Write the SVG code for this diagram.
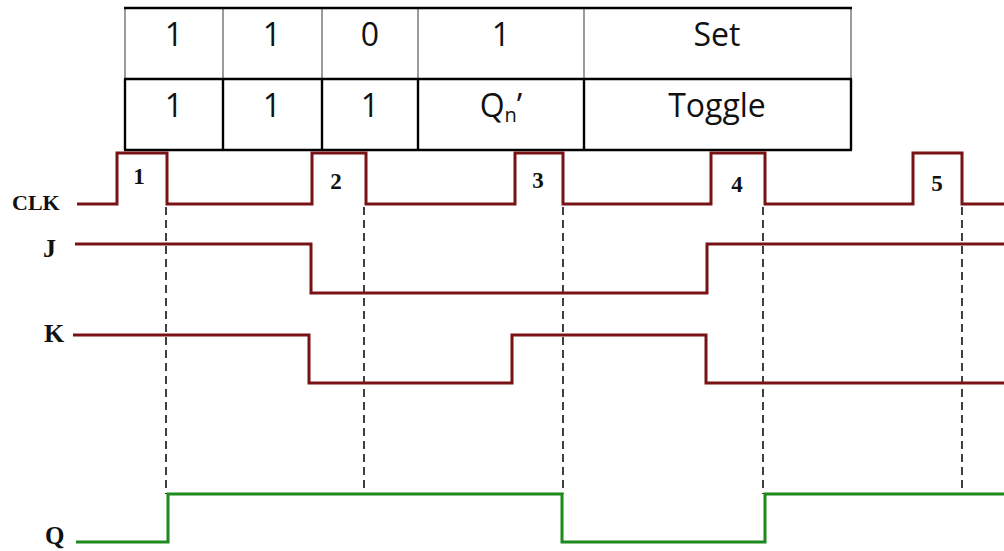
<svg xmlns="http://www.w3.org/2000/svg" width="1004" height="551" viewBox="0 0 1004 551">
  <style>
    .cell { font-family: "Open Sans", "Liberation Sans", sans-serif; font-size: 32px; fill: #111; text-anchor: middle; }
    .thin { stroke: #666; stroke-width: 1.3; fill: none; }
    .bold { stroke: #000; stroke-width: 2.4; fill: none; }
    .sig { fill: none; stroke: #781214; stroke-width: 3; stroke-linejoin: miter; }
    .out { fill: none; stroke: #1d8a1d; stroke-width: 3; stroke-linejoin: miter; }
    .label { font-family: "Liberation Serif", "DejaVu Serif", serif; font-weight: bold; fill: #111; }
    .num { font-family: "Liberation Serif", "DejaVu Serif", serif; font-weight: bold; font-size: 23px; fill: #111; text-anchor: middle; }
    .guide { stroke: #111; stroke-width: 1.6; stroke-dasharray: 8 5; fill: none; }
  </style>

  <!-- truth table rows -->
  <g id="table">
    <rect x="0" y="0" width="1004" height="551" fill="#fff"/>
    <!-- row 1 grid (light) -->
    <line class="thin" x1="125" y1="8" x2="125" y2="79"/>
    <line class="thin" x1="223" y1="8" x2="223" y2="79"/>
    <line class="thin" x1="322" y1="8" x2="322" y2="79"/>
    <line class="thin" x1="418" y1="8" x2="418" y2="79"/>
    <line class="thin" x1="584" y1="8" x2="584" y2="79"/>
    <line class="thin" x1="851" y1="8" x2="851" y2="79"/>
    <!-- row 2 grid (heavy) -->
    <line class="bold" x1="124" y1="8" x2="852" y2="8"/>
    <line class="bold" x1="124" y1="79" x2="852" y2="79"/>
    <line class="bold" x1="124" y1="150" x2="852" y2="150"/>
    <line class="bold" x1="125" y1="79" x2="125" y2="150"/>
    <line class="bold" x1="223" y1="79" x2="223" y2="150"/>
    <line class="bold" x1="322" y1="79" x2="322" y2="150"/>
    <line class="bold" x1="418" y1="79" x2="418" y2="150"/>
    <line class="bold" x1="584" y1="79" x2="584" y2="150"/>
    <line class="bold" x1="851" y1="79" x2="851" y2="150"/>

    <text class="cell" x="174" y="46">1</text>
    <text class="cell" x="272" y="46">1</text>
    <text class="cell" x="370" y="46">0</text>
    <text class="cell" x="501" y="46">1</text>
    <text class="cell" x="717" y="46">Set</text>

    <text class="cell" x="174" y="117">1</text>
    <text class="cell" x="272" y="117">1</text>
    <text class="cell" x="370" y="117">1</text>
    <text class="cell" x="501" y="117">Q<tspan font-size="20" dy="5">n</tspan><tspan dy="-5">’</tspan></text>
    <text class="cell" x="717" y="117">Toggle</text>
  </g>

  <!-- clock-edge guides -->
  <g id="connectors">
    <line class="guide" x1="166" y1="207" x2="166" y2="494"/>
    <line class="guide" x1="364" y1="207" x2="364" y2="494"/>
    <line class="guide" x1="563" y1="207" x2="563" y2="494"/>
    <line class="guide" x1="763" y1="207" x2="763" y2="494"/>
    <line class="guide" x1="962" y1="207" x2="962" y2="494"/>
  </g>

  <g id="clk">
    <path class="sig" d="M77,204 H117 V153 H167 V204 H312 V153 H366 V204 H515 V153 H563 V204 H711 V153 H765 V204 H913 V153 H962 V204 H1004"/>
    <text class="label" x="12" y="210" font-size="22">CLK</text>
    <text class="num" x="139" y="184">1</text>
    <text class="num" x="336" y="189">2</text>
    <text class="num" x="538" y="188">3</text>
    <text class="num" x="737" y="192">4</text>
    <text class="num" x="937" y="191">5</text>
  </g>

  <g id="j">
    <path class="sig" d="M75,244 H311 V293 H707 V244 H1004"/>
    <text class="label" x="43" y="257" font-size="26">J</text>
  </g>

  <g id="k">
    <path class="sig" d="M73,335 H309 V383 H512 V335 H706 V383 H1004"/>
    <text class="label" x="44" y="342" font-size="26">K</text>
  </g>

  <g id="q">
    <path class="out" d="M76,542 H168 V494 H562 V542 H765 V494 H1004"/>
    <text class="label" x="45" y="544" font-size="25">Q</text>
  </g>
</svg>
